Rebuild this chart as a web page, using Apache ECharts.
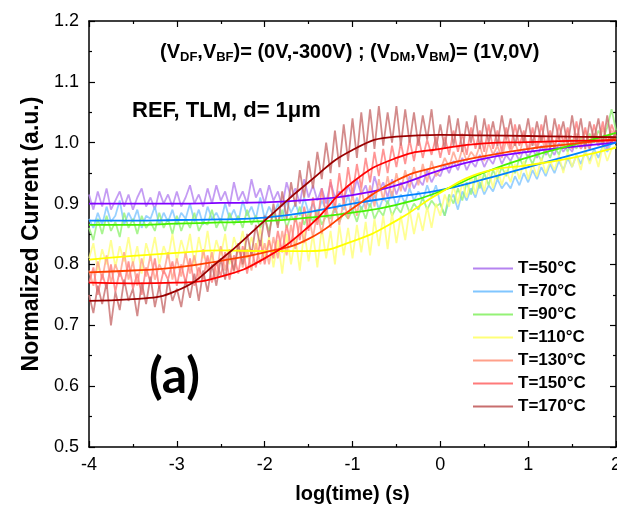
<!DOCTYPE html>
<html>
<head>
<meta charset="utf-8">
<script src="https://cdn.jsdelivr.net/npm/echarts@6/dist/echarts.min.js"></script>
<style>html,body{margin:0;padding:0;background:#fff;}#c{width:617px;height:511px;}</style>
</head>
<body>
<div id="c"></div>
<script>
// ---- data ----
var names = ['T=50°C','T=70°C','T=90°C','T=110°C','T=130°C','T=150°C','T=170°C'];
var rawColors = ['#b583f0','#80c6ff','#94f276','#ffff78','#ffa08a','#ff7a7a','#c86e6e'];
var fitColors = ['#8000ff','#0080ff','#44f000','#ffff00','#ff4000','#ff0000','#9a0000'];

var logT = [
 -4.00,-3.95,-3.90,-3.85,-3.80,-3.75,-3.70,-3.65,-3.60,-3.55,-3.50,-3.45,-3.40,-3.35,-3.30,-3.25,-3.20,-3.15,-3.10,-3.05,
 -3.00,-2.95,-2.90,-2.85,-2.80,-2.75,-2.70,-2.65,-2.60,-2.55,-2.50,-2.45,-2.40,-2.35,-2.30,-2.25,-2.20,-2.15,-2.10,-2.05,
 -2.00,-1.95,-1.90,-1.85,-1.80,-1.75,-1.70,-1.65,-1.60,-1.55,-1.50,-1.45,-1.40,-1.35,-1.30,-1.25,-1.20,-1.15,-1.10,-1.05,
 -1.00,-0.95,-0.90,-0.85,-0.80,-0.75,-0.70,-0.65,-0.60,-0.55,-0.50,-0.45,-0.40,-0.35,-0.30,-0.25,-0.20,-0.15,-0.10,-0.05,
  0.00, 0.05, 0.10, 0.15, 0.20, 0.25, 0.30, 0.35, 0.40, 0.45, 0.50, 0.55, 0.60, 0.65, 0.70, 0.75, 0.80, 0.85, 0.90, 0.95,
  1.00, 1.05, 1.10, 1.15, 1.20, 1.25, 1.30, 1.35, 1.40, 1.45, 1.50, 1.55, 1.60, 1.65, 1.70, 1.75, 1.80, 1.85, 1.90, 1.95,
  2.00];

var raw50 = [
 0.915,0.89,0.92,0.895,0.925,0.89,0.905,0.92,0.895,0.915,0.89,0.91,0.925,0.895,0.91,0.89,0.92,0.90,0.915,0.895,
 0.92,0.895,0.91,0.93,0.90,0.915,0.895,0.925,0.90,0.93,0.905,0.92,0.895,0.935,0.905,0.92,0.90,0.94,0.91,0.925,
 0.90,0.93,0.905,0.92,0.895,0.935,0.91,0.925,0.90,0.94,0.91,0.93,0.905,0.925,0.90,0.935,0.91,0.92,0.905,0.93,
 0.91,0.94,0.915,0.93,0.905,0.945,0.92,0.935,0.91,0.94,0.915,0.935,0.92,0.945,0.925,0.94,0.93,0.955,0.935,0.95,
 0.945,0.965,0.95,0.97,0.955,0.975,0.955,0.97,0.96,0.98,0.96,0.975,0.965,0.985,0.965,0.98,0.97,0.985,0.97,0.99,
 0.975,0.99,0.975,0.995,0.98,0.99,0.98,1.0,0.985,0.995,0.985,1.005,0.99,1.0,0.99,1.01,0.995,1.005,0.99,1.01,
 1.0];
var raw70 = [
 0.875,0.86,0.885,0.865,0.895,0.87,0.88,0.905,0.865,0.885,0.87,0.89,0.86,0.88,0.875,0.895,0.865,0.885,0.87,0.89,
 0.865,0.885,0.875,0.90,0.87,0.89,0.865,0.895,0.875,0.885,0.87,0.90,0.875,0.89,0.87,0.905,0.88,0.895,0.875,0.91,
 0.875,0.895,0.88,0.90,0.875,0.905,0.885,0.90,0.88,0.91,0.885,0.90,0.88,0.905,0.89,0.91,0.885,0.90,0.89,0.915,
 0.885,0.91,0.89,0.905,0.895,0.915,0.89,0.91,0.90,0.92,0.895,0.915,0.90,0.925,0.905,0.92,0.905,0.93,0.91,0.93,
 0.90,0.88,0.905,0.915,0.89,0.92,0.905,0.925,0.91,0.935,0.915,0.93,0.92,0.94,0.925,0.935,0.925,0.945,0.93,0.95,
 0.935,0.955,0.94,0.96,0.945,0.965,0.95,0.97,0.955,0.975,0.96,0.98,0.965,0.985,0.97,0.99,0.975,0.995,0.985,1.0,
 1.0];
var raw90 = [
 0.86,0.84,0.875,0.85,0.88,0.855,0.87,0.845,0.885,0.86,0.875,0.85,0.88,0.86,0.87,0.855,0.885,0.86,0.875,0.85,
 0.88,0.855,0.875,0.86,0.885,0.855,0.87,0.865,0.89,0.86,0.875,0.855,0.885,0.865,0.88,0.86,0.89,0.865,0.88,0.86,
 0.875,0.855,0.885,0.865,0.89,0.86,0.88,0.87,0.895,0.865,0.885,0.87,0.89,0.865,0.88,0.875,0.895,0.87,0.885,0.875,
 0.89,0.87,0.895,0.875,0.90,0.875,0.89,0.88,0.905,0.88,0.895,0.885,0.905,0.885,0.90,0.89,0.91,0.89,0.905,0.895,
 0.90,0.88,0.915,0.90,0.925,0.905,0.935,0.915,0.945,0.925,0.95,0.93,0.955,0.94,0.96,0.945,0.97,0.95,0.975,0.96,
 0.98,0.965,0.985,0.97,0.99,0.975,0.995,0.98,1.0,0.985,1.005,0.99,1.01,0.995,1.015,1.0,1.02,1.005,1.025,1.055,
 1.02];
var raw110 = [
 0.81,0.835,0.79,0.825,0.80,0.84,0.795,0.83,0.805,0.845,0.80,0.83,0.785,0.835,0.81,0.845,0.80,0.83,0.81,0.85,
 0.805,0.84,0.815,0.85,0.80,0.845,0.81,0.855,0.805,0.84,0.815,0.85,0.80,0.845,0.82,0.855,0.81,0.845,0.82,0.86,
 0.81,0.845,0.795,0.84,0.785,0.85,0.80,0.845,0.79,0.855,0.805,0.85,0.795,0.86,0.81,0.855,0.80,0.865,0.815,0.86,
 0.81,0.865,0.82,0.87,0.815,0.875,0.83,0.88,0.825,0.885,0.835,0.88,0.84,0.89,0.85,0.885,0.855,0.895,0.86,0.90,
 0.88,0.915,0.895,0.93,0.90,0.935,0.91,0.945,0.915,0.95,0.92,0.955,0.925,0.96,0.93,0.955,0.935,0.965,0.94,0.97,
 0.94,0.965,0.945,0.975,0.95,0.97,0.955,0.98,0.95,0.985,0.96,0.98,0.955,0.99,0.965,0.985,0.96,0.995,0.97,0.99,
 0.995];
var raw130 = [
 0.79,0.765,0.805,0.775,0.815,0.77,0.80,0.78,0.82,0.775,0.805,0.765,0.81,0.78,0.815,0.775,0.80,0.785,0.82,0.775,
 0.81,0.78,0.82,0.785,0.815,0.775,0.825,0.79,0.82,0.78,0.83,0.79,0.825,0.785,0.83,0.795,0.825,0.79,0.835,0.80,
 0.835,0.80,0.845,0.81,0.855,0.815,0.865,0.825,0.87,0.835,0.88,0.845,0.885,0.85,0.895,0.86,0.90,0.865,0.905,0.875,
 0.915,0.88,0.925,0.89,0.93,0.895,0.94,0.905,0.945,0.91,0.95,0.92,0.955,0.925,0.96,0.93,0.965,0.935,0.97,0.945,
 0.955,0.975,0.96,0.985,0.965,0.99,0.97,0.985,0.975,0.995,0.97,1.0,0.98,0.995,0.975,1.005,0.985,1.0,0.98,1.01,
 0.985,1.005,0.99,1.01,0.985,1.015,0.995,1.01,0.99,1.02,0.995,1.015,0.99,1.02,1.0,1.015,0.995,1.025,1.0,1.02,
 1.005];
var raw150 = [
 0.77,0.795,0.75,0.785,0.76,0.80,0.755,0.79,0.765,0.805,0.76,0.785,0.75,0.795,0.77,0.81,0.76,0.79,0.775,0.805,
 0.765,0.80,0.77,0.81,0.765,0.795,0.775,0.815,0.77,0.805,0.78,0.82,0.775,0.815,0.785,0.83,0.785,0.825,0.795,0.84,
 0.80,0.84,0.81,0.855,0.82,0.865,0.83,0.88,0.84,0.895,0.855,0.91,0.865,0.925,0.88,0.94,0.89,0.95,0.90,0.96,
 0.915,0.965,0.925,0.975,0.935,0.985,0.945,0.99,0.95,0.995,0.96,1.0,0.965,1.005,0.97,1.01,0.975,1.005,0.98,1.01,
 0.975,1.01,0.98,1.02,0.985,1.015,0.98,1.025,0.99,1.02,0.985,1.03,0.99,1.02,0.985,1.025,0.99,1.03,0.995,1.02,
 0.985,1.025,0.99,1.03,0.995,1.02,0.99,1.03,1.0,1.025,0.99,1.035,0.995,1.025,0.99,1.03,1.0,1.035,0.995,1.03,
 1.01];
var raw170 = [
 0.75,0.72,0.765,0.735,0.77,0.70,0.755,0.725,0.775,0.74,0.76,0.715,0.77,0.735,0.78,0.73,0.765,0.72,0.775,0.74,
 0.76,0.73,0.775,0.745,0.785,0.74,0.79,0.755,0.80,0.765,0.81,0.775,0.82,0.79,0.835,0.80,0.85,0.815,0.865,0.83,
 0.88,0.845,0.90,0.86,0.92,0.875,0.935,0.895,0.955,0.91,0.97,0.925,0.985,0.94,1.0,0.95,1.02,0.96,1.03,0.97,
 1.04,0.975,1.05,0.985,1.055,0.99,1.06,0.995,1.05,1.0,1.06,0.995,1.055,1.0,1.05,0.995,1.045,1.005,1.055,0.99,
 1.03,0.99,1.045,0.995,1.04,0.985,1.035,1.0,1.045,0.99,1.04,1.0,1.035,0.995,1.045,1.005,1.04,0.995,1.03,1.0,
 1.04,0.995,1.035,1.0,1.045,0.99,1.04,1.005,1.035,0.995,1.045,1.0,1.04,0.99,1.035,1.005,1.04,0.995,1.045,1.0,
 1.02];

var fitT = [-4,-3.5,-3,-2.5,-2,-1.5,-1,-0.5,0,0.5,1,1.5,2];
var fit50  = [0.900,0.900,0.900,0.901,0.902,0.906,0.914,0.930,0.955,0.974,0.985,0.993,1.000];
var fit70  = [0.872,0.872,0.873,0.874,0.877,0.886,0.900,0.911,0.922,0.940,0.960,0.980,1.000];
var fit90  = [0.865,0.865,0.867,0.869,0.871,0.877,0.885,0.898,0.920,0.951,0.976,0.996,1.016];
var fit110 = [0.808,0.814,0.819,0.823,0.822,0.822,0.838,0.872,0.918,0.952,0.963,0.975,0.992];
var fit130 = [0.787,0.790,0.795,0.806,0.820,0.842,0.892,0.938,0.962,0.978,0.990,0.998,1.006];
var fit150 = [0.770,0.769,0.770,0.780,0.810,0.862,0.935,0.975,0.990,0.999,1.001,1.003,1.004];
var fit170 = [0.740,0.743,0.757,0.808,0.872,0.935,0.988,1.010,1.013,1.012,1.011,1.010,1.009];

var yTicks = [0.5,0.6,0.7,0.8,0.9,1.0,1.1,1.2];
var xTicks = [-4,-3,-2,-1,0,1,2];

// ---- build ----
var raws = [raw50,raw70,raw90,raw110,raw130,raw150,raw170];
var fits = [fit50,fit70,fit90,fit110,fit130,fit150,fit170];
function pairs(xs, ys){ return xs.map(function(x,i){ return [x, ys[i]]; }); }

var series = [];
raws.forEach(function(r,i){
  series.push({
    name: names[i], type:'line', xAxisIndex:0, yAxisIndex:0,
    data: pairs(logT, r), showSymbol:false, symbol:'none',
    lineStyle:{color: rawColors[i], width:1.8, opacity:0.8},
    itemStyle:{color: rawColors[i]},
    z: 2+i, animation:false
  });
});
fits.forEach(function(f,i){
  series.push({
    name: 'fit'+i, type:'line', xAxisIndex:0, yAxisIndex:0,
    data: pairs(fitT, f), smooth:true, showSymbol:false, symbol:'none',
    lineStyle:{color: fitColors[i], width:1.8},
    z: 20+i, animation:false
  });
});

var axisCommon = {
  axisLine:{show:true, onZero:false, lineStyle:{color:'#000', width:1.5}},
  axisTick:{show:true, inside:true, length:6, lineStyle:{color:'#000', width:1.2}},
  minorTick:{show:true, splitNumber:2, length:3, lineStyle:{color:'#000', width:1.2}},
  splitLine:{show:false}
};
var FF = '"Liberation Sans", Arial, sans-serif';

var chart = echarts.init(document.getElementById('c'), null, {renderer:'canvas'});
chart.setOption({
  backgroundColor:'#fff',
  animation:false,
  grid:{left:89, right:1, top:21, bottom:64, outerBoundsMode:'none', containLabel:false},
  legend:{
    data: names, orient:'vertical', left:468, top:255,
    itemWidth:40, itemHeight:2, itemGap:6, icon:'rect',
    textStyle:{fontFamily:FF, fontWeight:'bold', fontSize:17, color:'#000'},
    selectedMode:false
  },
  xAxis:[
    Object.assign({}, axisCommon, {type:'value', position:'bottom', min:xTicks[0], max:xTicks[xTicks.length-1], interval:1,
      axisLabel:{fontFamily:FF, fontSize:18, color:'#000', margin:9},
      name:'log(time) (s)', nameLocation:'middle', nameGap:37,
      nameTextStyle:{fontFamily:FF, fontWeight:'bold', fontSize:20, color:'#000'}}),
    Object.assign({}, axisCommon, {type:'value', position:'top', min:xTicks[0], max:xTicks[xTicks.length-1], interval:1,
      axisLabel:{show:false}})
  ],
  yAxis:[
    Object.assign({}, axisCommon, {type:'value', position:'left', min:yTicks[0], max:yTicks[yTicks.length-1], interval:0.1,
      axisLabel:{fontFamily:FF, fontSize:18, color:'#000', margin:10,
        formatter:function(v){ return v.toFixed(1); }},
      name:'Normalized Current (a.u.)', nameLocation:'middle', nameGap:46, nameRotate:90,
      nameTextStyle:{fontFamily:FF, fontWeight:'bold', fontSize:23, color:'#000'}}),
    Object.assign({}, axisCommon, {type:'value', position:'right', min:yTicks[0], max:yTicks[yTicks.length-1], interval:0.1,
      axisLabel:{show:false}})
  ],
  graphic:[
    {type:'text', left:160, top:42, z:100,
      style:{
        text:'(V{s|DF},V{s|BF})= (0V,-300V) ; (V{s|DM},V{s|BM})= (1V,0V)',
        font:'bold 20px "Liberation Sans", Arial', fill:'#000',
        rich:{s:{font:'bold 13px "Liberation Sans", Arial', fill:'#000', padding:[10,0,0,0]}}
      }},
    {type:'text', left:132, top:100, z:100,
      style:{text:'REF, TLM, d= 1\u03bcm', font:'bold 22px "Liberation Sans", Arial', fill:'#000'}},
    {type:'text', left:149, top:352, z:100,
      style:{text:'(a)', font:'bold 50px Lato, "Open Sans", sans-serif', fill:'#000'}}
  ],
  series: series
});
</script>
</body>
</html>
